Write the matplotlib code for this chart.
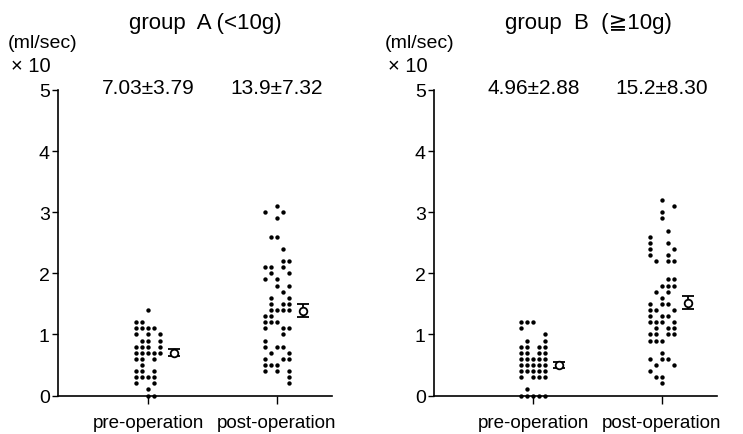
import matplotlib
matplotlib.use("Agg")
import matplotlib.pyplot as plt

plt.rcParams['font.family'] = ['Liberation Sans', 'DejaVu Sans']

categories = ["pre-operation", "post-operation"]
yticks = [0, 1, 2, 3, 4, 5]

# Dot data: value -> jitter column indices
A_pre = {1.4: [0], 1.2: [-2, -1], 1.1: [-2, -1, 0, 1], 1.0: [-2, 0, 2],
         0.9: [-1, 0, 2], 0.8: [-2, -1, 0, 2], 0.7: [-2, -1, 0, 1, 2],
         0.6: [-2, -1, 1], 0.5: [-1], 0.4: [-2, -1, 1], 0.3: [-2, -1, 0, 1],
         0.2: [-2, 1], 0.1: [0], 0.0: [0, 1]}
A_post = {3.1: [0], 3.0: [-2, 1], 2.9: [0], 2.6: [-1, 0], 2.4: [1],
          2.2: [1, 2], 2.1: [-2, -1, 1], 2.0: [-1, 2], 1.9: [-2, 0],
          1.8: [0, 2], 1.7: [1], 1.6: [-1, 2], 1.5: [-1, 1, 2],
          1.4: [-1, 0, 1, 2], 1.3: [-2, -1], 1.2: [-2, -1, 0],
          1.1: [-2, 1, 2], 1.0: [1], 0.9: [-2], 0.8: [-2, 0, 1],
          0.7: [-1, 2], 0.6: [-2, 1, 2], 0.5: [-2, -1, 0], 0.4: [-2, 0, 2],
          0.3: [2], 0.2: [2]}
B_pre = {1.2: [-2, -1, 0], 1.1: [-2], 1.0: [2], 0.9: [-1, 2],
         0.8: [-2, -1, 1, 2], 0.7: [-2, -1, 1, 2], 0.6: [-2, -1, 0, 1, 2],
         0.5: [-2, -1, 0, 1, 2], 0.4: [-2, -1, 0, 1, 2], 0.3: [-2, 0, 1, 2],
         0.1: [-1], 0.0: [-2, -1, 0, 1, 2]}
B_post = {3.2: [0], 3.1: [2], 3.0: [0], 2.9: [0], 2.7: [1], 2.6: [-2],
          2.5: [-2, 1], 2.4: [-2, 2], 2.3: [-2, 1], 2.2: [-1, 1, 2],
          1.9: [1, 2], 1.8: [0, 1, 2], 1.7: [-1, 1], 1.6: [0],
          1.5: [-2, 0, 1], 1.4: [-2, -1, 2], 1.3: [-2, 0, 1],
          1.2: [-2, -1, 0, 2], 1.1: [-1, 1, 2], 1.0: [-2, -1, 1, 2],
          0.9: [-2, -1, 0], 0.7: [0], 0.6: [-2, 0, 1], 0.5: [-1, 2],
          0.4: [-2], 0.3: [-1, 0], 0.2: [0]}

means_A = [0.703, 1.39]
sems_A = [0.06, 0.10]
means_B = [0.496, 1.52]
sems_B = [0.046, 0.11]
stats_A = ["7.03\u00b13.79", "13.9\u00b17.32"]
stats_B = ["4.96\u00b12.88", "15.2\u00b18.30"]
titles = ["group  A (<10g)", "group  B  (\u226710g)"]

W, H = 743, 435
fig = plt.figure(figsize=(W / 100, H / 100), dpi=100)

def px_axes(x0, x1, y0, y1):
    return fig.add_axes([x0 / W, 1 - y1 / H, (x1 - x0) / W, (y1 - y0) / H])

y_zero, y_five = 396.5, 91.0
axA = px_axes(58, 332, y_five, y_zero)
axB = px_axes(434, 717, y_five, y_zero)

col_step = 0.0466
mean_off = 0.2

def draw(ax, groups, means, sems, stats, xlim):
    for i, g in enumerate(groups):
        xs, ys = [], []
        for v, cols in g.items():
            for c in cols:
                xs.append(i + 1 + c * col_step)
                ys.append(v)
        ax.scatter(xs, ys, s=10, color='black', linewidths=0, clip_on=False, zorder=3)
        ax.errorbar([i + 1 + mean_off], [means[i]], yerr=[sems[i]], fmt='o',
                    mfc='white', mec='black', ecolor='black', ms=5.5, mew=1.3,
                    elinewidth=1.3, capsize=4, capthick=1.3, zorder=4, clip_on=False)
        ax.text(i + 1, 5.04, stats[i], ha='center', va='center', fontsize=15)
    ax.set_xlim(*xlim)
    ax.set_ylim(0, 5)
    ax.set_yticks(yticks)
    ax.set_xticks([1, 2])
    ax.set_xticklabels(categories, fontsize=13.5)
    ax.tick_params(axis='y', labelsize=14, length=4, width=1, pad=2, direction='out')
    ax.tick_params(axis='x', length=6, width=1, pad=7, direction='out')
    for s in ['top', 'right']:
        ax.spines[s].set_visible(False)
    for s in ['left', 'bottom']:
        ax.spines[s].set_linewidth(1.2)

draw(axA, [A_pre, A_post], means_A, sems_A, stats_A, (0.3023, 2.4264))
draw(axB, [B_pre, B_post], means_B, sems_B, stats_B, (0.2284, 2.427))

fig.text(205 / W, 1 - 23 / H, titles[0], ha='center', va='center', fontsize=16)
fig.text(588 / W, 1 - 23 / H, titles[1], ha='center', va='center', fontsize=16)
for x0 in (8, 385):
    fig.text(x0 / W, 1 - 43 / H, "(ml/sec)", ha='left', va='center', fontsize=14)
    fig.text((x0 + 3) / W, 1 - 66 / H, "\u00d7 10", ha='left', va='center', fontsize=14.5)

fig.savefig("out.png", dpi=100)
